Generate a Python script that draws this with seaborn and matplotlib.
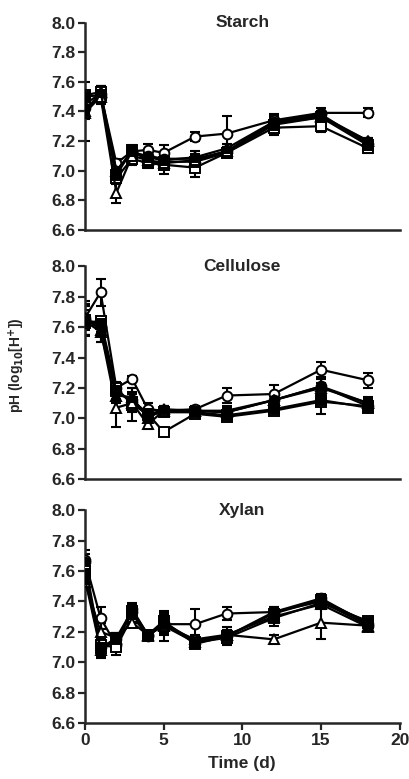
import pandas as pd
import matplotlib
matplotlib.use('Agg')
import matplotlib.pyplot as plt
import seaborn as sns

# sampling days
days = [0, 1, 2, 3, 4, 5, 7, 9, 12, 15, 18]
panels = ['Starch', 'Cellulose', 'Xylan']
treatments = ['open circle', 'filled circle', 'open square', 'filled square', 'open triangle', 'filled triangle']

# mean pH, starch
starch_oc = [7.45, 7.52, 7.05, 7.13, 7.14, 7.12, 7.23, 7.25, 7.34, 7.39, 7.39]
starch_fc = [7.42, 7.50, 7.00, 7.12, 7.10, 7.08, 7.08, 7.13, 7.33, 7.38, 7.18]
starch_os = [7.51, 7.53, 6.95, 7.08, 7.05, 7.04, 7.02, 7.12, 7.29, 7.30, 7.15]
starch_fs = [7.50, 7.51, 6.97, 7.14, 7.06, 7.06, 7.06, 7.12, 7.31, 7.36, 7.17]
starch_ot = [7.39, 7.50, 6.85, 7.10, 7.07, 7.05, 7.07, 7.13, 7.32, 7.36, 7.20]
starch_ft = [7.40, 7.53, 7.00, 7.13, 7.09, 7.07, 7.09, 7.15, 7.33, 7.37, 7.20]

# mean pH, cellulose
cell_oc = [7.66, 7.83, 7.20, 7.26, 7.06, 7.05, 7.06, 7.15, 7.16, 7.32, 7.25]
cell_fc = [7.65, 7.60, 7.17, 7.12, 7.03, 7.05, 7.05, 7.04, 7.12, 7.21, 7.08]
cell_os = [7.63, 7.64, 7.20, 7.09, 7.03, 6.91, 7.03, 7.01, 7.05, 7.11, 7.08]
cell_fs = [7.65, 7.62, 7.18, 7.11, 7.02, 7.04, 7.04, 7.02, 7.06, 7.12, 7.07]
cell_ot = [7.66, 7.58, 7.07, 7.10, 6.96, 7.05, 7.05, 7.04, 7.12, 7.20, 7.10]
cell_ft = [7.64, 7.57, 7.15, 7.14, 7.00, 7.06, 7.05, 7.05, 7.12, 7.21, 7.10]

# mean pH, xylan
xyl_oc = [7.67, 7.29, 7.11, 7.35, 7.18, 7.25, 7.25, 7.32, 7.33, 7.42, 7.25]
xyl_fc = [7.66, 7.10, 7.15, 7.33, 7.17, 7.26, 7.14, 7.17, 7.33, 7.40, 7.24]
xyl_os = [7.60, 7.11, 7.10, 7.30, 7.18, 7.24, 7.13, 7.16, 7.29, 7.39, 7.27]
xyl_fs = [7.58, 7.09, 7.16, 7.34, 7.18, 7.27, 7.12, 7.17, 7.32, 7.41, 7.26]
xyl_ot = [7.53, 7.20, 7.16, 7.26, 7.18, 7.24, 7.15, 7.18, 7.15, 7.26, 7.24]
xyl_ft = [7.55, 7.08, 7.15, 7.32, 7.17, 7.25, 7.13, 7.18, 7.30, 7.38, 7.23]

# standard deviations
starch_sd_oc = [0.03, 0.03, 0.03, 0.03, 0.04, 0.05, 0.03, 0.12, 0.03, 0.03, 0.03]
starch_sd_fc = [0.03, 0.03, 0.04, 0.03, 0.03, 0.04, 0.03, 0.03, 0.03, 0.02, 0.02]
starch_sd_os = [0.03, 0.04, 0.04, 0.04, 0.03, 0.06, 0.06, 0.03, 0.03, 0.04, 0.03]
starch_sd_fs = [0.03, 0.06, 0.04, 0.03, 0.03, 0.04, 0.04, 0.03, 0.07, 0.03, 0.03]
starch_sd_ot = [0.04, 0.04, 0.07, 0.04, 0.03, 0.04, 0.03, 0.03, 0.03, 0.03, 0.02]
starch_sd_ft = [0.20, 0.04, 0.04, 0.03, 0.03, 0.04, 0.04, 0.03, 0.03, 0.03, 0.02]

cell_sd_oc = [0.08, 0.09, 0.03, 0.02, 0.04, 0.03, 0.02, 0.05, 0.06, 0.05, 0.05]
cell_sd_fc = [0.10, 0.05, 0.05, 0.05, 0.03, 0.02, 0.02, 0.03, 0.04, 0.06, 0.04]
cell_sd_os = [0.08, 0.03, 0.04, 0.11, 0.04, 0.02, 0.02, 0.03, 0.03, 0.08, 0.03]
cell_sd_fs = [0.10, 0.05, 0.05, 0.05, 0.04, 0.02, 0.02, 0.03, 0.03, 0.03, 0.03]
cell_sd_ot = [0.11, 0.08, 0.13, 0.06, 0.03, 0.02, 0.02, 0.03, 0.03, 0.03, 0.03]
cell_sd_ft = [0.10, 0.07, 0.05, 0.06, 0.03, 0.02, 0.02, 0.03, 0.03, 0.05, 0.04]

xyl_sd_oc = [0.07, 0.07, 0.03, 0.04, 0.02, 0.07, 0.10, 0.04, 0.03, 0.03, 0.02]
xyl_sd_fc = [0.05, 0.05, 0.04, 0.04, 0.02, 0.07, 0.03, 0.03, 0.03, 0.03, 0.02]
xyl_sd_os = [0.05, 0.06, 0.05, 0.04, 0.02, 0.10, 0.04, 0.03, 0.05, 0.03, 0.02]
xyl_sd_fs = [0.05, 0.05, 0.03, 0.04, 0.02, 0.06, 0.03, 0.06, 0.03, 0.03, 0.02]
xyl_sd_ot = [0.05, 0.06, 0.03, 0.03, 0.02, 0.05, 0.03, 0.03, 0.03, 0.11, 0.02]
xyl_sd_ft = [0.05, 0.05, 0.03, 0.04, 0.02, 0.06, 0.03, 0.03, 0.03, 0.03, 0.02]

means = {
    'Starch': [starch_oc, starch_fc, starch_os, starch_fs, starch_ot, starch_ft],
    'Cellulose': [cell_oc, cell_fc, cell_os, cell_fs, cell_ot, cell_ft],
    'Xylan': [xyl_oc, xyl_fc, xyl_os, xyl_fs, xyl_ot, xyl_ft],
}
sds = {
    'Starch': [starch_sd_oc, starch_sd_fc, starch_sd_os, starch_sd_fs, starch_sd_ot, starch_sd_ft],
    'Cellulose': [cell_sd_oc, cell_sd_fc, cell_sd_os, cell_sd_fs, cell_sd_ot, cell_sd_ft],
    'Xylan': [xyl_sd_oc, xyl_sd_fc, xyl_sd_os, xyl_sd_fs, xyl_sd_ot, xyl_sd_ft],
}

# build one long table
rows = []
for p in panels:
    for t, m, s in zip(treatments, means[p], sds[p]):
        for d, v, e in zip(days, m, s):
            rows.append({'panel': p, 'treatment': t, 'day': d, 'pH': v, 'sd': e})
df = pd.DataFrame(rows)

marker_style = {
    'open circle': ('o', 'white'),
    'filled circle': ('o', 'black'),
    'open square': ('s', 'white'),
    'filled square': ('s', 'black'),
    'open triangle': ('^', 'white'),
    'filled triangle': ('^', 'black'),
}

sns.set_style('ticks')
plt.rcParams['font.family'] = ['Liberation Sans', 'DejaVu Sans']
plt.rcParams['font.weight'] = 'bold'

fig = plt.figure(figsize=(4.1, 7.79), dpi=100)
# axes boxes [left, bottom, width, height]
boxes = [
    [0.207, 0.705, 0.768, 0.266],
    [0.207, 0.385, 0.768, 0.273],
    [0.207, 0.072, 0.768, 0.273],
]
yticks = [6.6, 6.8, 7.0, 7.2, 7.4, 7.6, 7.8, 8.0]

for i, (p, box) in enumerate(zip(panels, boxes)):
    ax = fig.add_axes(box)
    sub = df[df['panel'] == p]
    for t in treatments:
        d = sub[sub['treatment'] == t]
        mk, fc = marker_style[t]
        ax.errorbar(d['day'], d['pH'], yerr=d['sd'], fmt='none', ecolor='black',
                    elinewidth=1.5, capsize=3.5, capthick=1.5, zorder=2)
        sns.lineplot(data=d, x='day', y='pH', ax=ax, color='black', linewidth=1.6,
                     marker=mk, markersize=7, markerfacecolor=fc,
                     markeredgecolor='black', markeredgewidth=1.4, zorder=3)
    ax.set_xlim(0, 20)
    ax.set_ylim(6.6, 8.0)
    ax.set_yticks(yticks)
    ax.set_yticklabels([f'{v:.1f}' for v in yticks])
    ax.tick_params(axis='both', labelsize=12.5, width=1.6, length=5, pad=2)
    for lab in ax.get_yticklabels():
        lab.set_fontweight('bold')
    sns.despine(ax=ax)
    for s in ['left', 'bottom']:
        ax.spines[s].set_linewidth(1.8)
    ax.set_ylabel('')
    ax.text(0.5, 1.0, p, transform=ax.transAxes, ha='center', va='center',
            fontsize=12.5, fontweight='bold')
    if i < 2:
        ax.set_xticks([])
        ax.set_xlabel('')
    else:
        ax.set_xticks([0, 5, 10, 15, 20])
        for lab in ax.get_xticklabels():
            lab.set_fontweight('bold')
        ax.set_xlabel('Time (d)', fontsize=12.5, fontweight='bold', labelpad=6)

fig.text(0.042, 0.531, 'pH (log$_{10}$[H$^{+}$])', rotation=90, ha='center', va='center',
         fontsize=10, fontweight='bold')

fig.savefig('out.png', dpi=100)
